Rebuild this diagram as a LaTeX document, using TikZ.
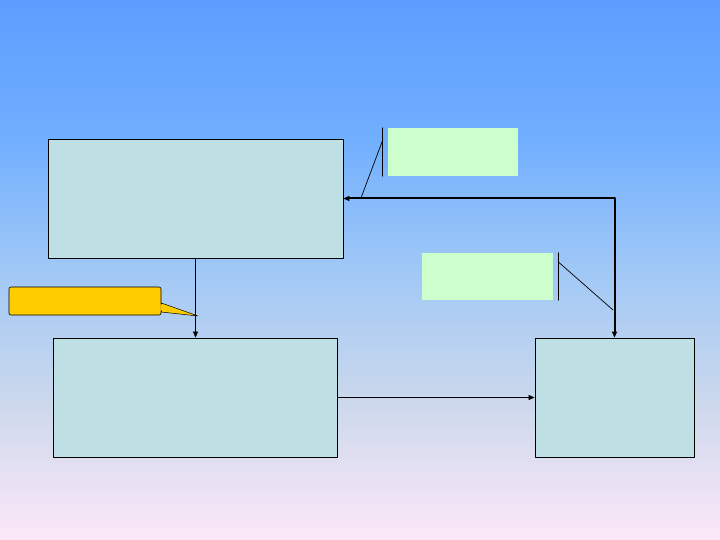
\documentclass[tikz,border=0pt]{standalone}
\usepackage{tikz}
\usetikzlibrary{arrows.meta}
\usetikzlibrary{positioning}
\definecolor{bgtop}{RGB}{94,157,255}
\definecolor{bgupper}{RGB}{112,174,255}
\definecolor{bgmid}{RGB}{160,200,246}
\definecolor{bglower}{RGB}{205,216,236}
\definecolor{bgbot}{RGB}{252,232,248}
\definecolor{boxfill}{RGB}{190,224,229}
\definecolor{notegreen}{RGB}{204,255,204}
\definecolor{noteyellow}{RGB}{255,204,0}
\pgfdeclareverticalshading{slidebg}{100bp}{color(0bp)=(bgbot); color(25bp)=(bgbot);
  color(37.5bp)=(bglower); color(50bp)=(bgmid); color(62.5bp)=(bgupper);
  color(75bp)=(bgtop); color(100bp)=(bgtop)}
\tikzset{
  stagebox/.style={draw=black,line width=0.8pt,fill=boxfill,inner sep=0pt},
  greennote/.style={fill=notegreen,inner sep=0pt,minimum width=130pt,minimum height=48pt},
  yellownote/.style={draw=black,line width=0.6pt,fill=noteyellow,rounded corners=2pt,inner sep=0pt,minimum width=152pt,minimum height=28pt},
  thinarrow/.style={line width=0.7pt,-{Triangle[length=6pt,width=5pt]}},
  thickarrow/.style={line width=2pt,{Triangle[length=6pt,width=5pt]}-{Triangle[length=6pt,width=5pt]}},
  leader/.style={line width=0.7pt}
}
\begin{document}
\begin{tikzpicture}[line cap=round,line join=round,x=1pt,y=-1pt]
\shade[shading=slidebg] (0,0) rectangle (720,540);
\useasboundingbox (0,0) rectangle (720,540);
% stage boxes
\node[stagebox,minimum width=295pt,minimum height=119pt] (top) at (195.5,198.5) {};
\node[stagebox,minimum width=284pt,minimum height=119pt] (left) at (195,397.5) {};
\node[stagebox,minimum width=159pt,minimum height=119pt] (right) at (614.5,397.5) {};
% notes
\node[greennote] (noteA) at (453,152) {};
\node[greennote,minimum width=131pt,minimum height=47pt] (noteB) at (487.5,276.5) {};
\node[yellownote] (noteC) at (85,301) {};
% connectors
\draw[thinarrow] (top.south) -- (top.south |- left.north);
\draw[thinarrow] (left.east) -- (right.west);
\draw[thickarrow] (top.east) -- (top.east -| right.north) -- (right.north);
% callout lines
\coordinate (tipA) at (361,198);
\coordinate (tipB) at (613,310);
\coordinate (tipC) at (198,316);
\draw[leader] ([xshift=-5pt]noteA.north west) -- ([xshift=-5pt]noteA.south west);
\draw[leader] ([xshift=-5pt,yshift=-12pt]noteA.north west) -- (tipA);
\draw[leader] ([xshift=5pt]noteB.north east) -- ([xshift=5pt]noteB.south east);
\draw[leader] ([xshift=5pt,yshift=-9pt]noteB.north east) -- (tipB);
\filldraw[fill=noteyellow,draw=black,line width=0.5pt] ([yshift=-2pt]noteC.east) -- (tipC) -- ([yshift=-11pt]noteC.east) -- cycle;
\fill[noteyellow] ([xshift=-1pt,yshift=-2.4pt]noteC.east) -- ([xshift=3pt,yshift=-6pt]noteC.east) -- ([xshift=-1pt,yshift=-10.6pt]noteC.east) -- cycle;
\end{tikzpicture}
\end{document}
